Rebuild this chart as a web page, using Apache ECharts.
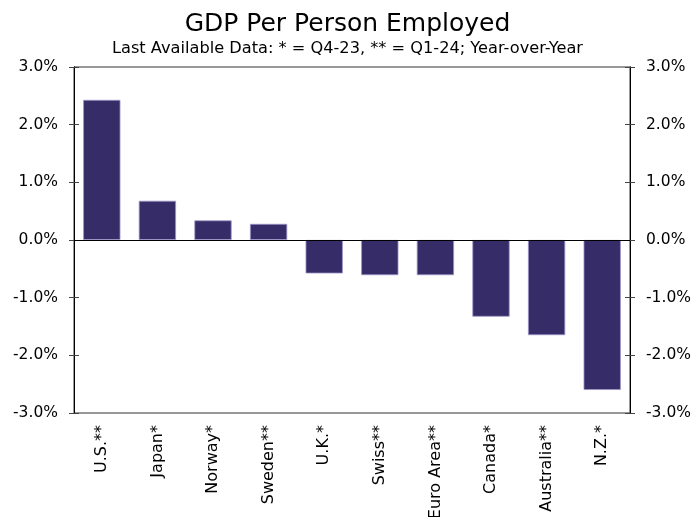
<!DOCTYPE html>
<html>
<head>
<meta charset="utf-8">
<script src="https://cdn.jsdelivr.net/npm/echarts@6/dist/echarts.min.js"></script>
<style>
html,body{margin:0;padding:0;background:#fff;}
#chart{width:695px;height:517px;}
</style>
</head>
<body>
<div id="chart"></div>
<script>
const categories = ['U.S.**','Japan*','Norway*','Sweden**','U.K.*','Swiss**','Euro Area**','Canada*','Australia**','N.Z.*'];
const values = [2.43, 0.68, 0.34, 0.28, -0.58, -0.61, -0.61, -1.33, -1.65, -2.60];
const yTicks = {min: -3, max: 3, interval: 1};
const titleText = 'GDP Per Person Employed';
const subtitleText = 'Last Available Data: * = Q4-23, ** = Q1-24; Year-over-Year';

const FONT = 'DejaVu Sans';
const chart = echarts.init(document.getElementById('chart'), null, {renderer: 'canvas'});
const fmt = v => v.toFixed(1) + '%';
function yAx(pos, inside, showLabel) {
  return {
    type: 'value', position: pos, min: yTicks.min, max: yTicks.max, interval: yTicks.interval,
    axisLine: {show: true, lineStyle: {color: '#000', width: 1}},
    axisTick: {show: true, inside: inside, length: 5, lineStyle: {color: '#444', width: 1}},
    axisLabel: {show: showLabel, formatter: fmt, fontFamily: FONT, fontSize: 15.5, color: '#000', margin: 16},
    splitLine: {show: false}
  };
}
chart.setOption({
  animation: false,
  backgroundColor: '#fff',
  title: [
    {text: titleText, left: 'center', top: 7, textStyle: {fontFamily: FONT, fontSize: 25, fontWeight: 'normal', color: '#000'}},
    {text: subtitleText, left: 'center', top: 36, textStyle: {fontFamily: FONT, fontSize: 16.2, fontWeight: 'normal', color: '#000'}}
  ],
  grid: {left: 74, right: 65, top: 67, bottom: 104, outerBoundsMode: 'none', containLabel: false,
    show: true, borderColor: '#333', borderWidth: 1, backgroundColor: 'transparent'},
  xAxis: {
    type: 'category', data: categories,
    axisLine: {show: false}, axisTick: {show: false},
    axisLabel: {rotate: 90, fontFamily: FONT, fontSize: 16, color: '#000', margin: 12, interval: 0, hideOverlap: false},
    splitLine: {show: false}
  },
  yAxis: [yAx('left', false, true), yAx('right', false, true), yAx('left', true, false), yAx('right', true, false)],
  series: [{
    type: 'bar', data: values, barCategoryGap: '33%',
    itemStyle: {color: '#352C68', borderColor: '#9d96c8', borderWidth: 0.8},
    markLine: {silent: true, symbol: 'none', label: {show: false},
      lineStyle: {color: '#000', width: 1, type: 'solid'}, data: [{yAxis: 0}]}
  }]
});
</script>
</body>
</html>
